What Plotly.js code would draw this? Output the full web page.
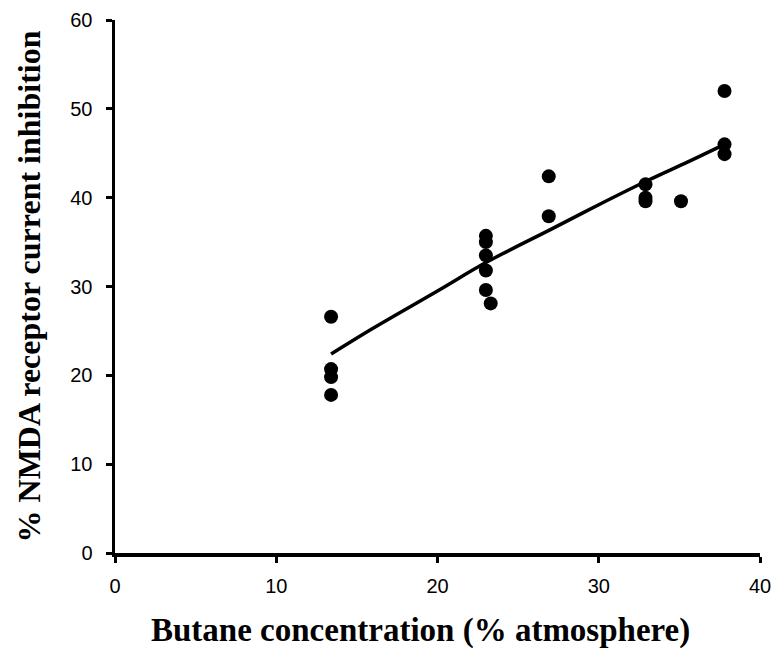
<!DOCTYPE html>
<html><head><meta charset="utf-8">
<script src="https://cdn.plot.ly/plotly-3.0.1.min.js"></script>
<style>body{margin:0;background:#fff}#c{width:774px;height:648px}</style>
</head><body><div id="c"></div>
<script>
const butaneX = [13.4,13.4,13.4,13.4, 23.0,23.0,23.0,23.0,23.0,23.3, 26.9,26.9, 32.9,32.9,32.9, 35.1, 37.8,37.8,37.8];
const inhibitionY = [26.6,20.7,19.8,17.8, 35.7,35.0,33.5,31.8,29.6,28.1, 42.4,37.9, 41.5,40.0,39.6, 39.6, 52.0,46.0,44.9];
const fitX = [13.4,16,20,23,27,30,33,35.5,37.8];
const fitY = [22.4,25.3,29.5,32.7,36.4,39.2,41.9,44.0,46.0];
const xTicks = [0,10,20,30,40];
const yTicks = [0,10,20,30,40,50,60];
const xTitle = 'Butane concentration (% atmosphere)';
const yTitle = '% NMDA receptor current inhibition';

const traces = [
  {x: fitX, y: fitY, type:'scatter', mode:'lines', line:{color:'#000', width:3.5, shape:'spline'}, hoverinfo:'skip'},
  {x: butaneX, y: inhibitionY, type:'scatter', mode:'markers', marker:{color:'#000', size:14}}
];
const axisCommon = {showline:true, linecolor:'#000', linewidth:3.5, ticks:'outside', ticklen:6, tickwidth:3, tickcolor:'#000', showgrid:false, zeroline:false, tickfont:{family:'Liberation Sans, Arial', size:20, color:'#000'}};
const titleFont = {family:'Liberation Serif, Times New Roman', size:33, color:'#000', weight:'bold'};
const layout = {
  width:774, height:648, showlegend:false,
  paper_bgcolor:'#fff', plot_bgcolor:'#fff',
  margin:{l:115, r:14, t:20, b:95},
  xaxis: Object.assign({}, axisCommon, {range:[0,40], tickvals:xTicks, ticktext:xTicks.map(String), ticklabelstandoff:6}),
  yaxis: Object.assign({}, axisCommon, {range:[0,60], tickvals:yTicks, ticktext:yTicks.map(String), ticklabelstandoff:9,
    title:{text:yTitle, font:{family:'Liberation Serif, Times New Roman', size:32, color:'#000', weight:'bold'}, standoff:21}}),
  annotations:[{text:xTitle, xref:'paper', yref:'paper', x:0.474, y:-0.1445, xanchor:'center', yanchor:'middle', showarrow:false, font:titleFont}]
};
Plotly.newPlot('c', traces, layout, {displayModeBar:false, staticPlot:true});
</script></body></html>
